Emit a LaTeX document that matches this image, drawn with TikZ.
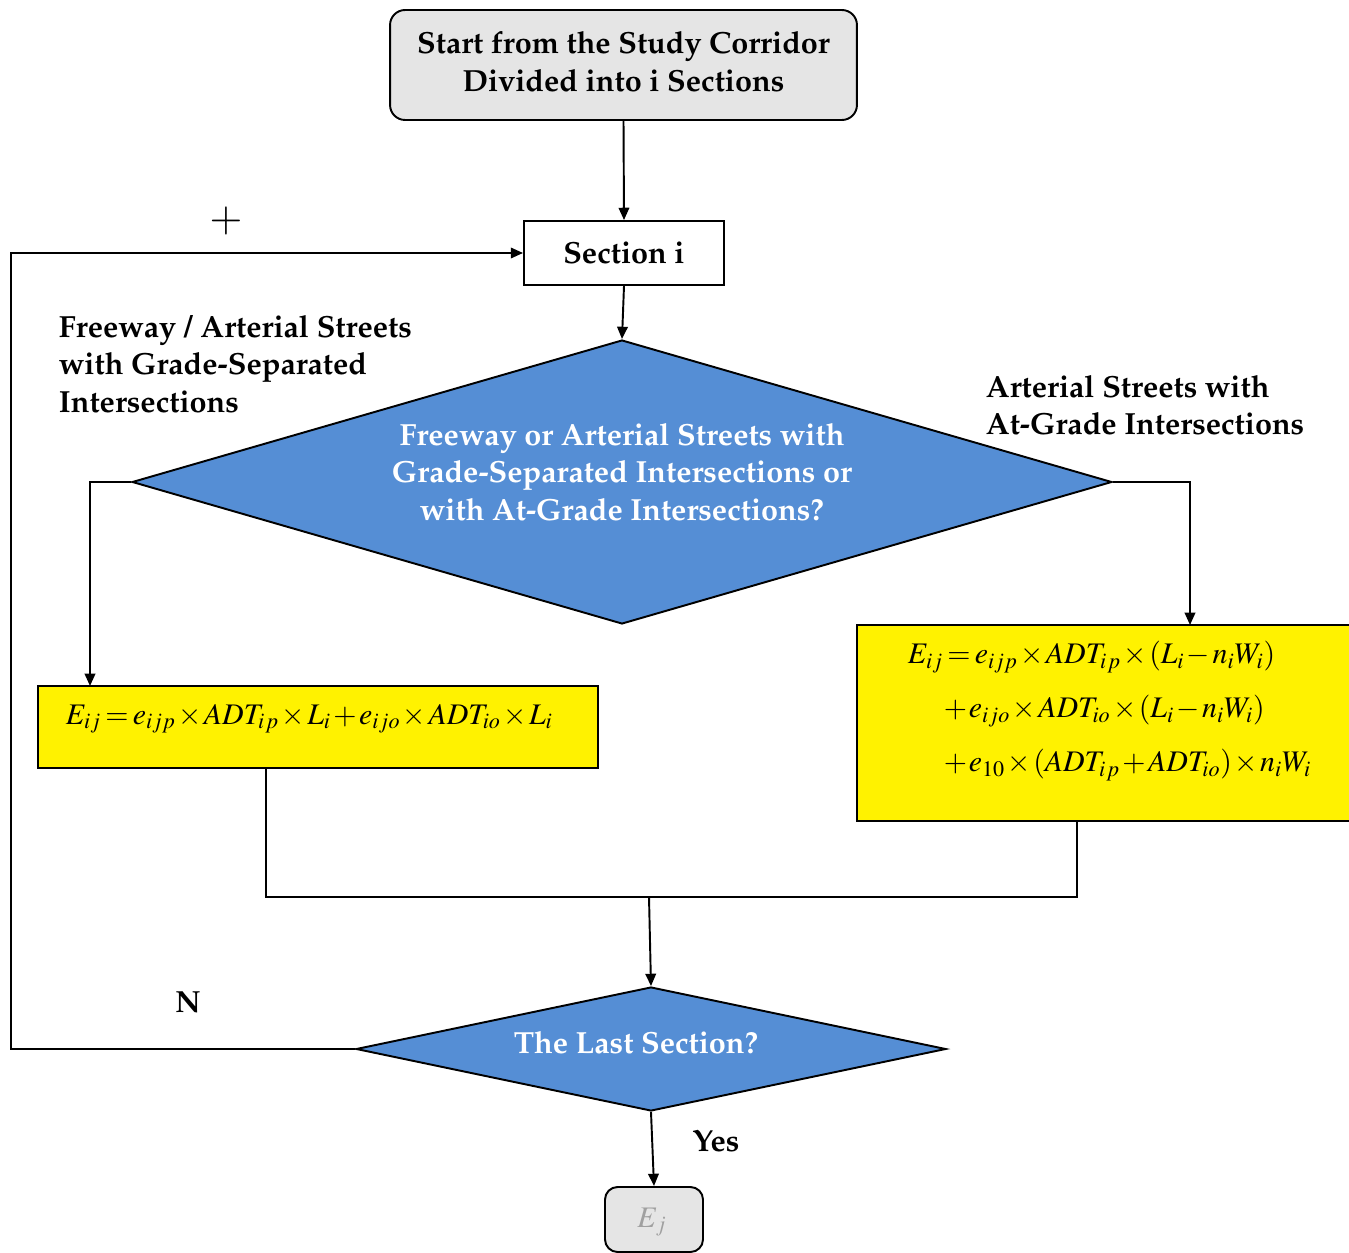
\documentclass[tikz,border=0pt]{standalone}
\usepackage[T1]{fontenc}
\usepackage{mathptmx}
\renewcommand{\rmdefault}{ppl}
\usetikzlibrary{shapes.geometric,arrows.meta,calc}
\definecolor{dblue}{RGB}{85,142,213}
\definecolor{boxgray}{RGB}{229,229,229}
\definecolor{ejgray}{RGB}{160,160,160}
\newcommand{\tightmath}{\medmuskip=1.5mu\thickmuskip=2.5mu\thinmuskip=1mu}
\begin{document}
\begin{tikzpicture}[x=0.02cm,y=-0.02cm,line width=1.1pt,
  arr/.style={-{Triangle[length=7pt,width=6pt]}},
  txt/.style={font=\fontsize{17.4}{21.5}\selectfont\bfseries},
  lbl/.style={txt,align=left,inner sep=0pt},
  startbox/.style={draw,rounded corners=0.3cm,fill=boxgray,align=center,txt,inner sep=0pt},
  secbox/.style={draw,fill=white,txt,inner sep=0pt},
  dia/.style={diamond,draw,fill=dblue,inner sep=0pt},
  dtext/.style={txt,text=white,align=center,inner sep=0pt},
  ybox/.style={draw,fill=yellow,inner sep=0pt},
  fml/.style={font=\fontsize{17}{20}\selectfont\tightmath,inner sep=0pt,anchor=west}]
\useasboundingbox (0,0) rectangle (1349,1253);
\clip (0,0) rectangle (1349,1253);

\node[startbox,minimum width=9.34cm,minimum height=2.2cm] (start) at (623.5,65) {};
\node[txt,align=center,inner sep=0pt] (startt) at (623.5,62)
  {Start from the Study Corridor\\Divided into i Sections};
\node[secbox,minimum width=4cm,minimum height=1.28cm] (sec) at (624,253) {Section i};

\node[dia,aspect=3.45,minimum width=19.6cm,minimum height=5.68cm] (d1) at (622,482) {};
\node[dtext] (d1t) at (622,472) {Freeway or Arterial Streets with\\Grade-Separated Intersections or\\with At-Grade Intersections?};

\node[ybox,minimum width=11.2cm,minimum height=1.64cm] (f1) at (318,727) {};
\node[fml] (f1t) at (65,719) {$E_{ij}=e_{ijp}\times ADT_{i\,p}\times L_i+e_{ijo}\times ADT_{io}\times L_i$};

\node[ybox,minimum width=9.9cm,minimum height=3.92cm] (f2) at (1104.5,723) {};
\node[fml] (r1) at (907,657) {$E_{ij}=e_{ijp}\times ADT_{i\,p}\times (L_i-n_iW_i)$};
\node[fml] (r2) at (943,711) {$+\,e_{ijo}\times ADT_{io}\times (L_i-n_iW_i)$};
\node[fml] (r3) at (943,765) {$+\,e_{10}\times (ADT_{i\,p}+ADT_{io})\times n_iW_i$};

\node[dia,aspect=4.76,minimum width=11.8cm,minimum height=2.48cm] (d2) at (651,1049) {};
\node[dtext] (d2t) at (636,1043) {The Last Section?};

\node[draw,rounded corners=0.25cm,fill=boxgray,minimum width=1.96cm,minimum height=1.3cm,inner sep=0pt] (ej) at (654,1219.5) {};
\node[text=ejgray,font=\fontsize{17}{20}\selectfont,inner sep=0pt] (ejt) at (652,1222) {$E_j$};

\node[lbl,anchor=north west] (lab1) at (58,314) {Freeway / Arterial Streets\\with Grade-Separated\\Intersections};
\node[lbl,anchor=north west] (lab2) at (985,374) {Arterial Streets with\\At-Grade Intersections};
\node[font=\fontsize{24}{26}\selectfont,inner sep=0pt] (plus) at (226,221) {$+$};
\node[txt,inner sep=0pt] (nlab) at (188,1002) {N};
\node[txt,inner sep=0pt] (yes) at (716,1141) {Yes};

\coordinate (lb) at (90,686);
\coordinate (rb) at (1190,625);
\coordinate (j) at (649,897);

\draw[arr] (start.south) -- (sec.north);
\draw[arr] (sec.south) -- (d1.north);
\draw[arr] (d1.west) -| (lb);
\draw[arr] (d1.east) -| (rb);
\draw ($(f1.south)+(-52,0)$) -- (266,897) -- (1077,897) -- ($(f2.south)+(-27.5,0)$);
\draw[arr] (j) -- (d2.north);
\draw[arr] (d2.west) -- (11,1049) -- (11,253) -- (sec.west);
\draw[arr] (d2.south) -- (ej.north);
\end{tikzpicture}
\end{document}
